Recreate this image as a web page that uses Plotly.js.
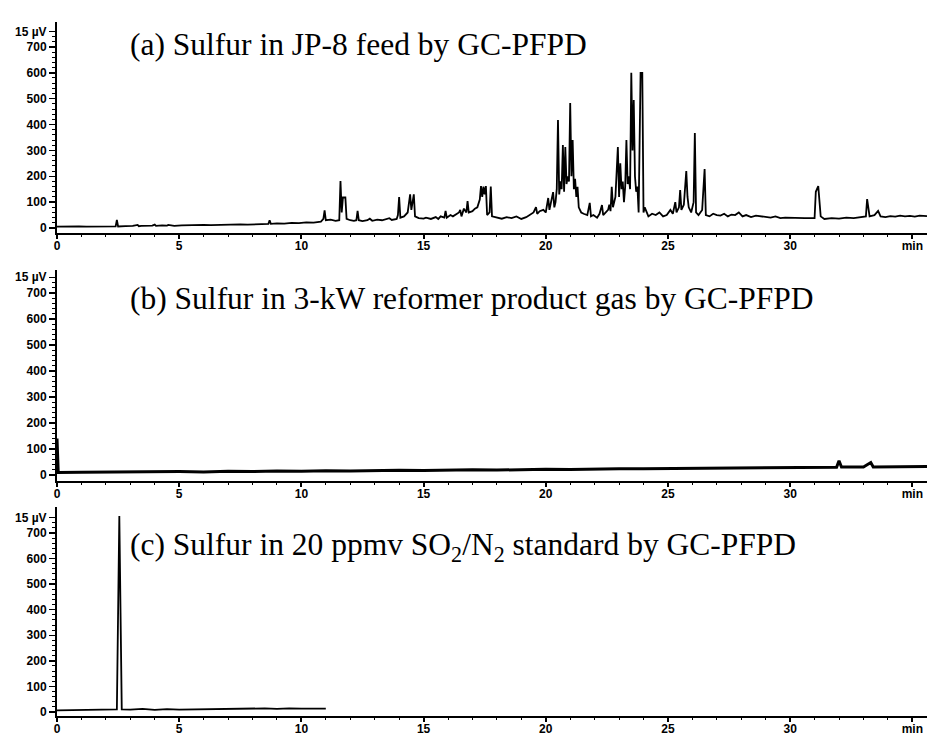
<!DOCTYPE html>
<html>
<head>
<meta charset="utf-8">
<script src="https://cdn.plot.ly/plotly-3.0.1.min.js"></script>
<style>html,body{margin:0;padding:0;background:#fff}#chart{width:927px;height:735px}</style>
</head>
<body>
<div id="chart"></div>
<script>
// Panel (a): JP-8 feed chromatogram (time in min, signal)
const timeA = [
0,0.3,0.6,0.9,1.2,1.5,1.8,2.1,2.4,2.45,2.5,2.8,3.1,3.3,3.35,3.45,3.7,3.9,4.0,4.05,4.3,4.5,4.55,4.8,5.1,5.4,5.7,6.0,6.3,6.6,6.9,7.2,7.5,7.8,8.1,8.4,8.65,8.7,8.75,9.0,9.3,9.6,9.9,10.2,10.5,
10.8,10.9,10.95,11.0,11.2,11.4,11.55,11.6,11.65,11.7,11.8,11.85,12.0,12.15,12.25,12.3,12.35,12.5,12.7,12.8,12.9,13.1,13.3,13.5,13.6,13.7,13.9,13.95,14.0,14.05,14.2,14.35,14.45,14.5,14.55,14.6,14.65,14.8,15.0,15.1,15.3,15.5,15.6,15.7,15.85,15.9,15.95,16.1,16.2,16.35,16.45,16.5,16.55,16.65,16.75,16.8,16.85,17.0,17.1,17.2,17.3,17.35,17.4,17.45,17.5,17.55,17.6,17.7,17.75,17.8,
18.0,18.2,18.4,18.6,18.8,19.0,19.2,19.35,19.5,19.6,19.65,19.75,19.9,20.0,20.1,20.15,20.2,20.3,20.35,20.4,
20.45,20.5,20.55,20.6,20.65,20.7,20.75,20.8,20.85,20.9,20.95,21.0,21.05,21.1,21.15,21.2,21.25,21.3,21.35,21.45,21.55,
21.7,21.8,21.85,21.95,22.1,22.2,22.3,22.35,22.45,22.55,22.6,22.65,22.7,22.75,22.85,22.95,23.0,23.05,23.1,23.15,23.2,23.25,23.3,23.35,23.4,23.45,23.5,23.55,23.6,23.65,23.7,23.75,23.8,23.88,23.95,24.0,24.05,
24.2,24.35,24.5,24.65,24.8,24.95,25.1,25.2,25.3,25.35,25.45,25.5,25.55,25.65,25.75,25.8,25.85,25.95,26.05,26.1,26.15,26.25,26.4,26.5,26.55,26.7,26.85,27.0,27.15,27.3,27.45,27.6,27.75,27.9,28.05,28.2,28.4,28.6,28.8,29.0,29.2,29.4,29.6,29.8,30.2,30.6,31.0,31.05,31.15,31.25,31.4,31.7,32.0,32.3,32.6,32.9,33.1,33.15,33.25,33.45,33.6,33.7,33.9,34.1,34.3,34.5,34.7,34.9,35.1,35.3,35.6];
const signalA = [
5,6,5,6,5,6,6,6,6,31,6,7,8,12,7,8,10,9,13,8,10,9,12,8,10,11,10,12,11,12,13,12,14,13,15,16,16,30,16,18,17,20,19,22,21,
25,35,68,30,32,28,30,182,60,118,118,35,30,28,30,66,30,27,30,36,28,32,30,34,38,31,35,50,120,40,45,60,130,70,100,130,45,38,36,40,35,42,35,45,40,66,40,50,45,55,60,70,45,75,60,104,60,65,75,80,110,162,120,160,130,162,50,60,160,45,
40,36,42,38,45,35,42,50,60,81,55,65,70,60,116,70,90,139,80,100,
150,418,130,180,150,321,140,313,170,200,180,483,200,340,150,190,120,159,80,60,55,
50,97,45,50,40,55,89,50,60,70,90,65,159,80,120,313,120,250,150,180,100,160,340,170,200,150,600,300,495,200,140,160,60,600,600,60,80,
45,55,50,60,45,50,70,55,100,60,80,147,70,90,220,120,80,60,100,367,60,50,70,228,50,45,55,50,48,55,45,52,50,60,45,50,42,48,45,44,40,45,38,40,38,38,38,140,162,45,35,38,36,40,38,42,45,112,45,50,66,45,42,46,44,48,45,47,44,48,46];

// Panel (b): reformer product gas
const timeB = [0.0,0.02,0.05,1.0,2.0,3.0,4.0,5.0,6.0,7.0,8.0,9.0,10.0,11.0,12.0,13.0,14.0,15.0,16.0,17.0,18.0,19.0,20.0,21.0,22.0,23.0,24.0,25.0,26.0,27.0,28.0,29.0,30.0,31.0,31.9,32.0,32.1,33.0,33.3,33.4,34.0,35.0,35.6];
const signalB = [140,10,10,11,12,11,12,13,12,14,13,15,14,16,15,17,18,17,19,20,19,21,22,21,23,24,24,25,26,27,27,28,29,30,30,55,31,31,48,31,32,33,33];

// Panel (c): 20 ppmv SO2/N2 standard
const timeC = [0.0,1.0,2.0,2.45,2.55,2.65,3.0,3.5,4.0,4.5,5.0,5.5,6.0,6.5,7.0,7.5,8.0,8.5,9.0,9.5,10.0,10.5,11.0];
const signalC = [6,7,8,10,766,10,9,12,8,11,9,10,9,11,10,13,12,14,12,14,13,14,13];

const panelTitles = [
  "(a) Sulfur in JP-8 feed by GC-PFPD",
  "(b) Sulfur in 3-kW reformer product gas by GC-PFPD",
  "(c) Sulfur in 20 ppmv SO<sub>2</sub>/N<sub>2</sub> standard by GC-PFPD"
];
const xTickVals = [0,5,10,15,20,25,30,35];
const xTickText = ["0","5","10","15","20","25","30","min"];
const yTickVals = [0,100,200,300,400,500,600,700,760];
const yTickText = ["0","100","200","300","400","500","600","700","15 µV"];

const traces = [
  {x:timeA, y:signalA, xaxis:"x", yaxis:"y", type:"scatter", mode:"lines", line:{color:"#000", width:1.8}, hoverinfo:"skip"},
  {x:timeB, y:signalB, xaxis:"x2", yaxis:"y2", type:"scatter", mode:"lines", line:{color:"#000", width:3}, hoverinfo:"skip"},
  {x:timeC, y:signalC, xaxis:"x3", yaxis:"y3", type:"scatter", mode:"lines", line:{color:"#000", width:1.8}, hoverinfo:"skip"}
];

const tickFont = {family:"Liberation Sans, Arial, sans-serif", size:12, color:"#000", weight:"bold"};
function xAx(anchor){
  return {anchor:anchor, range:[0,35.6], showgrid:false, zeroline:false, showline:true, linewidth:2, linecolor:"#000",
    ticks:"outside", ticklen:4, tickwidth:2, tickcolor:"#000", tickmode:"array", tickvals:xTickVals, ticktext:xTickText,
    ticklabelstandoff:-3,
    tickfont:tickFont, minor:{ticks:"outside", dtick:1, ticklen:2, tickwidth:1, tickcolor:"#000"}};
}
function yAx(anchor, dom, rng){
  return {anchor:anchor, domain:dom, range:rng, showgrid:false, zeroline:false, showline:true, linewidth:2, linecolor:"#000",
    ticks:"outside", ticklen:6, tickwidth:1.5, tickcolor:"#000", tickmode:"array", tickvals:yTickVals, ticktext:yTickText,
    tickfont:tickFont, minor:{ticks:"outside", tickvals:[20,40,60,80,120,140,160,180,220,240,260,280,320,340,360,380,420,440,460,480,520,540,560,580,620,640,660,680,720,740], ticklen:3, tickwidth:1, tickcolor:"#000"}};
}

const titleFont = {family:"Liberation Serif, Times New Roman, serif", size:31.5, color:"#000"};
const layout = {
  width:927, height:735, margin:{l:57, r:0, t:0, b:0}, showlegend:false,
  paper_bgcolor:"#fff", plot_bgcolor:"#fff",
  xaxis:xAx("y"), xaxis2:xAx("y2"), xaxis3:xAx("y3"),
  yaxis:yAx("x", [0.6830,0.9701], [-19.3,796.6]),
  yaxis2:yAx("x2", [0.3456,0.6327], [-23,788]),
  yaxis3:yAx("x3", [0.0259,0.3102], [-15.6,801.7]),
  annotations:[
    {text:panelTitles[0], xref:"paper", yref:"paper", x:0.082, y:1-45/735, xanchor:"left", yanchor:"middle", showarrow:false, font:titleFont},
    {text:panelTitles[1], xref:"paper", yref:"paper", x:0.082, y:1-298/735, xanchor:"left", yanchor:"middle", showarrow:false, font:titleFont},
    {text:panelTitles[2], xref:"paper", yref:"paper", x:0.082, y:1-547/735, xanchor:"left", yanchor:"middle", showarrow:false, font:titleFont}
  ]
};
Plotly.newPlot("chart", traces, layout, {staticPlot:true, displayModeBar:false});
</script>
</body>
</html>
